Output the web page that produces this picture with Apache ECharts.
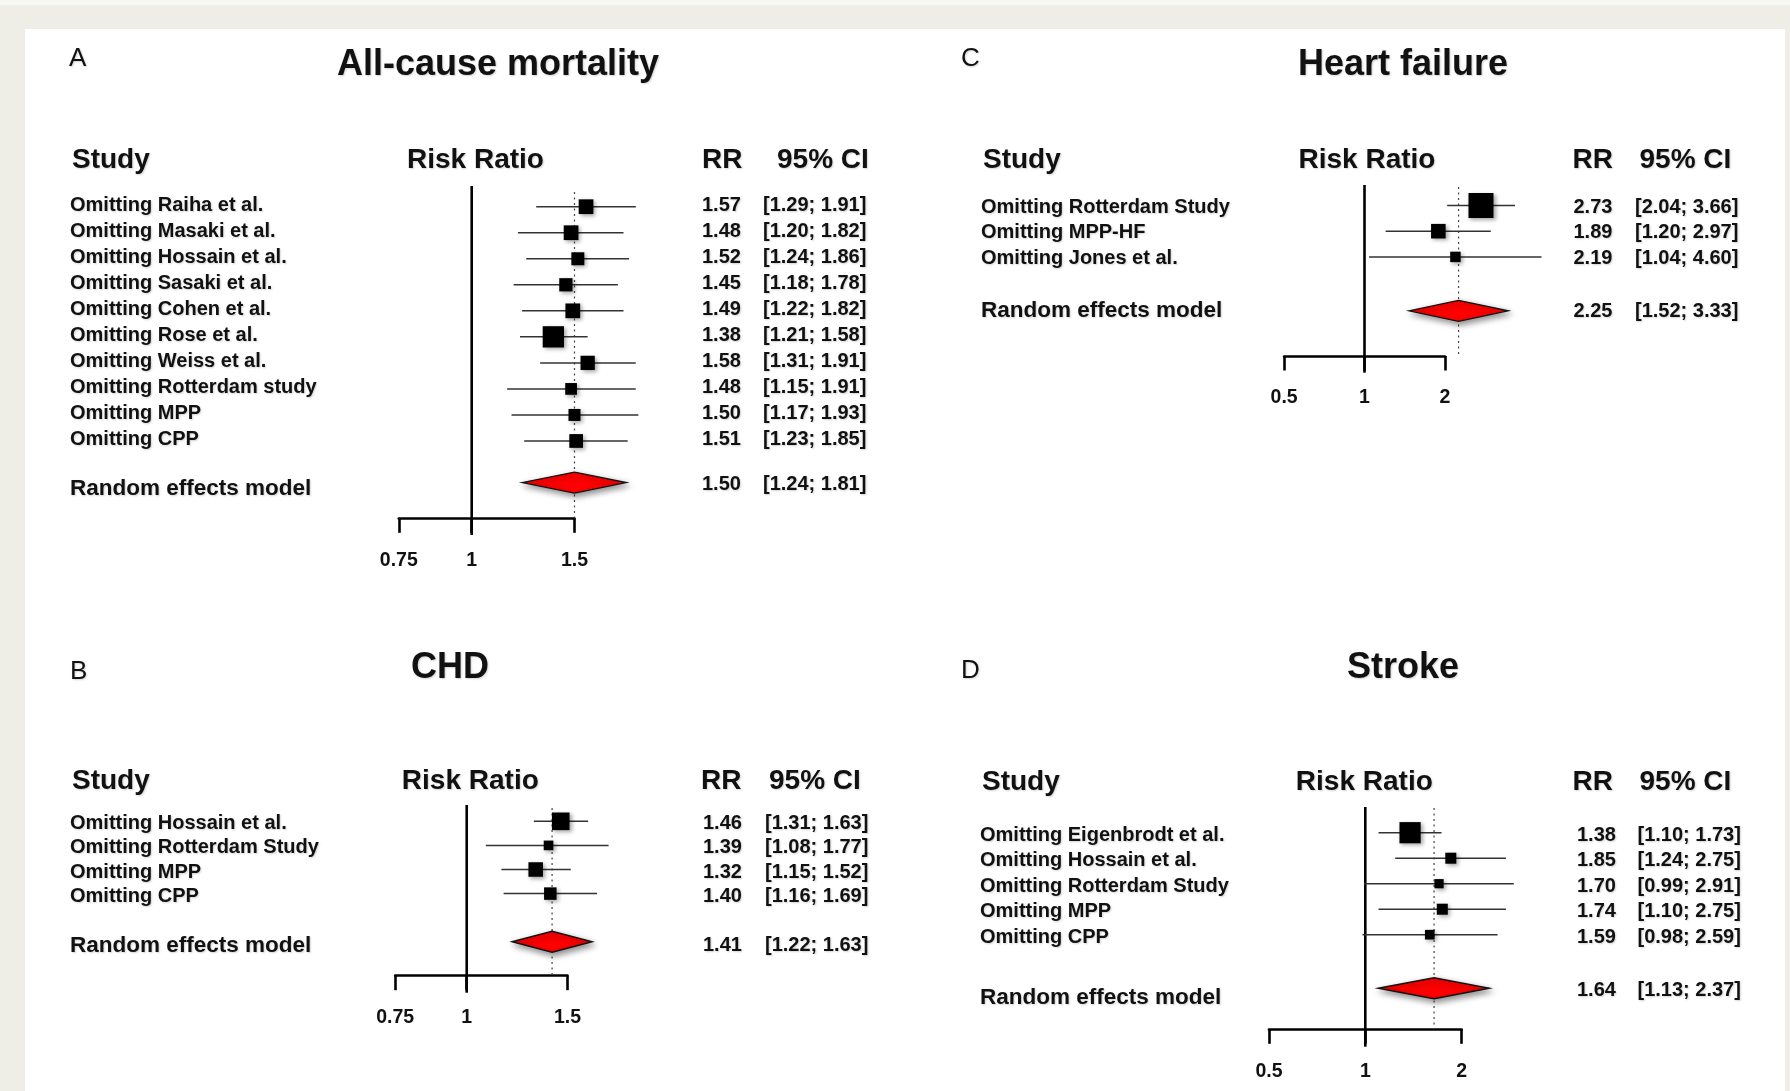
<!DOCTYPE html>
<html>
<head>
<meta charset="utf-8">
<title>Leave-one-out forest plots</title>
<script src="https://cdn.jsdelivr.net/npm/echarts@6.0.0/dist/echarts.min.js"></script>
<style>
html, body { margin: 0; padding: 0; background: #eeeee6; }
#chart { width: 1790px; height: 1091px; }
</style>
</head>
<body>
<div id="chart"></div>
<script>
// A - all-cause mortality
const studiesA = ['Omitting Raiha et al.', 'Omitting Masaki et al.', 'Omitting Hossain et al.', 'Omitting Sasaki et al.',
    'Omitting Cohen et al.', 'Omitting Rose et al.', 'Omitting Weiss et al.', 'Omitting Rotterdam study',
    'Omitting MPP', 'Omitting CPP'];
const rrA = [1.57, 1.48, 1.52, 1.45, 1.49, 1.38, 1.58, 1.48, 1.50, 1.51];
const loA = [1.29, 1.20, 1.24, 1.18, 1.22, 1.21, 1.31, 1.15, 1.17, 1.23];
const hiA = [1.91, 1.82, 1.86, 1.78, 1.82, 1.58, 1.91, 1.91, 1.93, 1.85];
const weightA = [10.7, 10.7, 8.3, 8.7, 10.7, 22.4, 10.1, 6.8, 7.1, 9.3];
const pooledA = [1.50, 1.24, 1.81];
const ticksA = [0.75, 1, 1.5];

// B - CHD
const studiesB = ['Omitting Hossain et al.', 'Omitting Rotterdam Study', 'Omitting MPP', 'Omitting CPP'];
const rrB = [1.46, 1.39, 1.32, 1.40];
const loB = [1.31, 1.08, 1.15, 1.16];
const hiB = [1.63, 1.77, 1.52, 1.69];
const weightB = [15.3, 4.6, 10.4, 7.7];
const pooledB = [1.41, 1.22, 1.63];
const ticksB = [0.75, 1, 1.5];

// C - heart failure
const studiesC = ['Omitting Rotterdam Study', 'Omitting MPP-HF', 'Omitting Jones et al.'];
const rrC = [2.73, 1.89, 2.19];
const loC = [2.04, 1.20, 1.04];
const hiC = [3.66, 2.97, 4.60];
const weightC = [30.9, 10.5, 5.4];
const pooledC = [2.25, 1.52, 3.33];
const ticksC = [0.5, 1, 2];

// D - stroke
const studiesD = ['Omitting Eigenbrodt et al.', 'Omitting Hossain et al.', 'Omitting Rotterdam Study',
    'Omitting MPP', 'Omitting CPP'];
const rrD = [1.38, 1.85, 1.70, 1.74, 1.59];
const loD = [1.10, 1.24, 0.99, 1.10, 0.98];
const hiD = [1.73, 2.75, 2.91, 2.75, 2.59];
const weightD = [22.2, 6.0, 4.2, 6.0, 4.6];
const pooledD = [1.64, 1.13, 2.37];
const ticksD = [0.5, 1, 2];

const FONT = '"Liberation Sans", Arial, Helvetica, sans-serif';
const BOX = 4.5; // box side = BOX * sqrt(weight)

// page layout per panel (pixels)
const layouts = [
    { letter: 'A', title: 'All-cause mortality', letterX: 69, letterY: 59, titleX: 498, titleY: 65.5, headY: 160.5,
      studyX: 70, riskX: 475.5, rrHeadX: 702, ciHeadX: 777, rrX: 702, ciX: 763, textDy: -1,
      x1: 471.7, k: 253.5, row0: 206.7, step: 26.03, axisY: 518.3, nullTop: 186, nullBot: 535, dotTop: 192,
      reRow: 10.6, reDy: 6.5, reValDy: 2 },
    { letter: 'B', title: 'CHD', letterX: 70, letterY: 672, titleX: 450, titleY: 668, headY: 781,
      studyX: 70, riskX: 470.3, rrHeadX: 701, ciHeadX: 769, rrX: 703, ciX: 765, textDy: 2.5,
      x1: 466.7, k: 248.5, row0: 821.3, step: 24.1, axisY: 975.7, nullTop: 805, nullBot: 992.7, dotTop: 808,
      reRow: 5, reDy: 3.5, reValDy: 3.5 },
    { letter: 'C', title: 'Heart failure', letterX: 961, letterY: 59, titleX: 1403, titleY: 65.5, headY: 160.5,
      studyX: 981, riskX: 1367, rrHeadX: 1572.5, ciHeadX: 1639.5, rrX: 1573.5, ciX: 1635, textDy: 1.5,
      x1: 1364.5, k: 116, row0: 205.5, step: 25.7, axisY: 356, nullTop: 185, nullBot: 372.7, dotTop: 187,
      reRow: 4.1, reDy: -0.5, reValDy: 0.5 },
    { letter: 'D', title: 'Stroke', letterX: 961, letterY: 671, titleX: 1403, titleY: 668, headY: 782.5,
      studyX: 980, riskX: 1364.3, rrHeadX: 1572.5, ciHeadX: 1639.5, rrX: 1577, ciX: 1637.5, textDy: 2.5,
      x1: 1365.3, k: 139, row0: 832.7, step: 25.5, axisY: 1029.3, nullTop: 807, nullBot: 1046.7, dotTop: 808,
      reRow: 6.1, reDy: 10, reValDy: 2 }
];

const panels = [
    { names: studiesA, rr: rrA, lo: loA, hi: hiA, weight: weightA, pooled: pooledA, ticks: ticksA, lay: layouts[0] },
    { names: studiesB, rr: rrB, lo: loB, hi: hiB, weight: weightB, pooled: pooledB, ticks: ticksB, lay: layouts[1] },
    { names: studiesC, rr: rrC, lo: loC, hi: hiC, weight: weightC, pooled: pooledC, ticks: ticksC, lay: layouts[2] },
    { names: studiesD, rr: rrD, lo: loD, hi: hiD, weight: weightD, pooled: pooledD, ticks: ticksD, lay: layouts[3] }
];

function fmt(v) { return v.toFixed(2); }

function txt(x, y, text, size, align, weight) {
    return {
        type: 'text', x: x, y: y,
        style: {
            text: text, font: (weight || 'bold') + ' ' + size + 'px ' + FONT, fill: '#111',
            align: align, textAlign: align, verticalAlign: 'middle', textVerticalAlign: 'middle',
            textShadowColor: 'rgba(0,0,0,0.18)', textShadowBlur: 2, textShadowOffsetX: 1, textShadowOffsetY: 1
        }
    };
}

function studySeries(p, i) {
    const L = p.lay;
    return {
        type: 'custom', xAxisIndex: i, yAxisIndex: i, clip: false, z: 5,
        data: p.rr.map((v, k) => [k, v, p.lo[k], p.hi[k], p.weight[k]]),
        encode: { x: [1, 2, 3], y: 0 },
        renderItem: function (params, api) {
            const row = api.value(0);
            const c = api.coord([api.value(1), row]);
            const a = api.coord([api.value(2), row]);
            const b = api.coord([api.value(3), row]);
            const s = Math.sqrt(api.value(4)) * BOX;
            const ty = c[1] + L.textDy;
            return {
                type: 'group', children: [
                    { type: 'line', shape: { x1: a[0], y1: c[1], x2: b[0], y2: c[1] }, style: { stroke: '#333', lineWidth: 1.5 } },
                    { type: 'rect', shape: { x: c[0] - s / 2, y: c[1] - s / 2, width: s, height: s },
                      style: { fill: '#000', shadowBlur: 4, shadowOffsetX: 2, shadowOffsetY: 2, shadowColor: 'rgba(0,0,0,0.35)' } },
                    txt(L.studyX, ty, p.names[params.dataIndex], 20, 'left'),
                    txt(L.rrX, ty, fmt(api.value(1)), 20, 'left'),
                    txt(L.ciX, ty, '[' + fmt(api.value(2)) + '; ' + fmt(api.value(3)) + ']', 20, 'left')
                ]
            };
        }
    };
}

function pooledSeries(p, i) {
    const L = p.lay;
    return {
        type: 'custom', xAxisIndex: i, yAxisIndex: i, clip: false, z: 3,
        data: [[L.reRow, p.pooled[0], p.pooled[1], p.pooled[2]]],
        encode: { x: [1, 2, 3], y: 0 },
        renderItem: function (params, api) {
            const row = api.value(0);
            const c = api.coord([api.value(1), row]);
            const a = api.coord([api.value(2), row]);
            const b = api.coord([api.value(3), row]);
            const one = api.coord([1, row]);
            const h = 10.5, pad = 4;
            return {
                type: 'group', children: [
                    { type: 'line', shape: { x1: one[0], y1: L.nullTop, x2: one[0], y2: L.nullBot }, style: { stroke: '#000', lineWidth: 2.6 } },
                    { type: 'line', shape: { x1: c[0], y1: L.dotTop, x2: c[0], y2: L.axisY }, style: { stroke: '#444', lineWidth: 1.2, lineDash: [2, 3.5] } },
                    { type: 'polygon', shape: { points: [[a[0] - pad, c[1]], [c[0], c[1] - h], [b[0] + pad, c[1]], [c[0], c[1] + h]] },
                      style: { fill: '#ff0000', stroke: '#111', lineWidth: 1.4, shadowBlur: 6, shadowOffsetX: 2, shadowOffsetY: 3, shadowColor: 'rgba(0,0,0,0.45)' } },
                    txt(L.studyX, c[1] + L.reDy, 'Random effects model', 22.5, 'left'),
                    txt(L.rrX, c[1] + L.reValDy, fmt(api.value(1)), 20, 'left'),
                    txt(L.ciX, c[1] + L.reValDy, '[' + fmt(api.value(2)) + '; ' + fmt(api.value(3)) + ']', 20, 'left')
                ]
            };
        }
    };
}

const grids = [], xAxes = [], yAxes = [], series = [];
const graphics = [
    { type: 'rect', z: -10, shape: { x: 0, y: 0, width: 1790, height: 5 }, style: { fill: '#f7f7f3' } },
    { type: 'rect', z: -10, shape: { x: 25, y: 29, width: 1760, height: 1070 }, style: { fill: '#ffffff' } }
];

panels.forEach((p, i) => {
    const L = p.lay;
    const lo = p.ticks[0], hi = p.ticks[p.ticks.length - 1];
    const left = L.x1 + L.k * Math.log(lo);
    const right = L.x1 + L.k * Math.log(hi);
    const top = L.row0 - L.step;
    grids.push({ left: left, top: top, width: right - left, height: L.axisY - top });
    xAxes.push({
        type: 'log', gridIndex: i, logBase: 10, min: lo, max: hi, position: 'bottom',
        axisLine: { show: true, onZero: false, lineStyle: { color: '#000', width: 2.6 } },
        axisTick: { show: true, length: 14.5, customValues: p.ticks, lineStyle: { color: '#000', width: 2.6 } },
        axisLabel: {
            customValues: p.ticks, margin: 32, fontSize: 19.5, fontWeight: 'bold', fontFamily: FONT, color: '#111',
            formatter: v => String(v)
        },
        splitLine: { show: false }, minorTick: { show: false }
    });
    yAxes.push({ type: 'value', gridIndex: i, inverse: true, min: -1, max: (L.axisY - L.row0) / L.step, show: false });
    series.push(pooledSeries(p, i), studySeries(p, i));

    graphics.push(
        txt(L.letterX, L.letterY, L.letter, 26, 'left', 'normal'),
        txt(L.titleX, L.titleY, L.title, 36, 'center'),
        txt(L.studyX + 2, L.headY, 'Study', 28, 'left'),
        txt(L.riskX, L.headY, 'Risk Ratio', 28, 'center'),
        txt(L.rrHeadX, L.headY, 'RR', 28, 'left'),
        txt(L.ciHeadX, L.headY, '95% CI', 28, 'left')
    );
});

const chart = echarts.init(document.getElementById('chart'));
chart.setOption({
    backgroundColor: '#eeeee6',
    animation: false,
    grid: grids,
    xAxis: xAxes,
    yAxis: yAxes,
    graphic: graphics,
    series: series
});
window.addEventListener('resize', chart.resize);
</script>
</body>
</html>
